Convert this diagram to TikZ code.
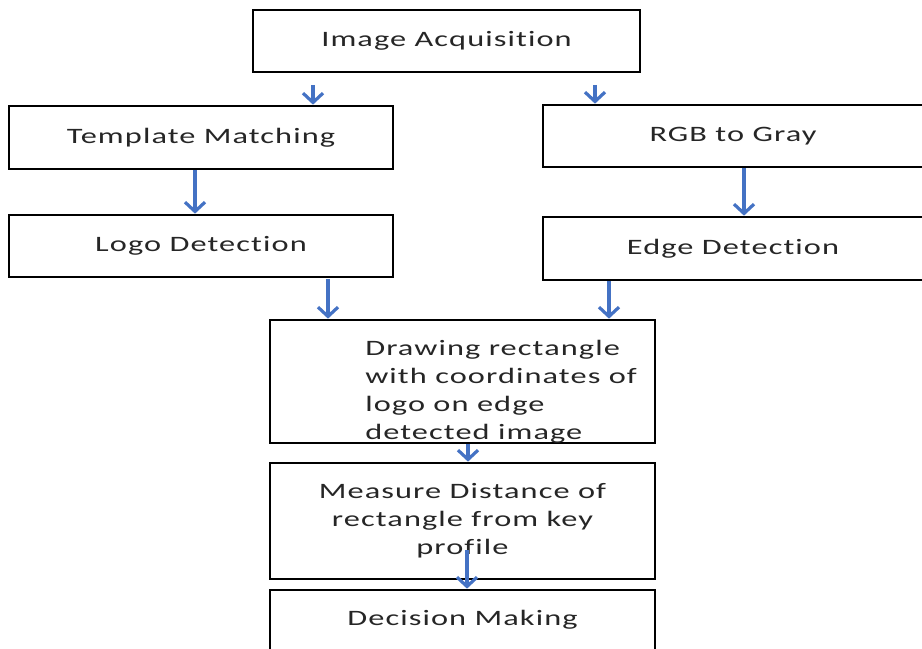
\documentclass[tikz,border=0pt]{standalone}
\usepackage{fontspec}
\setmainfont{Carlito}[FakeStretch=1.47,LetterSpace=5,Ligatures=NoCommon]
\usetikzlibrary{arrows.meta}
\definecolor{arrblue}{HTML}{4472C4}
\begin{document}
\begin{tikzpicture}[x=0.75pt,y=-0.75pt,
  box/.style={draw=black,line width=2pt,rectangle,inner sep=0pt,
    font=\fontsize{16.5}{21}\selectfont,text=black!85},
  arr/.style={draw=arrblue,line width=2.7pt,-{Straight Barb[length=7pt,width=15pt,line width=2.4pt]}},
  txt/.style={font=\fontsize{16.5}{21}\selectfont,text=black!85,inner sep=0pt}]
\useasboundingbox (0,0) rectangle (922,649);
\clip (0,0) rectangle (922,649);
\node[box,minimum width=387*0.75pt,minimum height=62*0.75pt] (acq) at (446.5,41) {Image Acquisition};
\node[box,minimum width=384*0.75pt,minimum height=63*0.75pt] (tm) at (201,137.5) {Template Matching};
\node[box,minimum width=384*0.75pt,minimum height=62*0.75pt] (logo) at (201,246) {Logo Detection};
\node[box,minimum width=380*0.75pt,minimum height=62*0.75pt] (rgb) at (733,136) {RGB to Gray};
\node[box,minimum width=380*0.75pt,minimum height=63*0.75pt] (edge) at (733,248.5) {Edge Detection};
\node[box,minimum width=385*0.75pt,minimum height=123*0.75pt] (drw) at (462.5,381.5) {};
\begin{scope}
\clip (drw.north west) rectangle (drw.south east);
\node[txt,align=left,anchor=north west] (drwt) at (365,340)
  {Drawing rectangle\\with coordinates of\\logo on edge\\detected image};
\end{scope}
\node[box,minimum width=385*0.75pt,minimum height=116*0.75pt,align=center] (meas) at (462.5,521)
  {Measure Distance of\\rectangle from key\\profile};
\node[box,minimum width=385*0.75pt,minimum height=64*0.75pt] (dec) at (462.5,622) {};
\node[txt] (dect) at (462.5,620) {Decision Making};
\coordinate (a1) at (313,85);
\coordinate (a2) at (595,85);
\coordinate (a3) at (328,279);
\coordinate (a4) at (609,281);
\coordinate (a5) at (468,444);
\coordinate (a6) at (467,550);
\draw[arr] (a1) -- (a1 |- tm.north);
\draw[arr] (a2) -- (a2 |- rgb.north);
\draw[arr] (tm.south) ++(-6,0) coordinate (b1) (b1) -- (b1 |- logo.north);
\draw[arr] (rgb.south) ++(11,0) coordinate (b2) (b2) -- (b2 |- edge.north);
\draw[arr] (a3) -- (a3 |- drw.north);
\draw[arr] (a4) -- (a4 |- drw.north);
\draw[arr] (a5) -- (a5 |- meas.north);
\draw[arr] (a6) -- (a6 |- dec.north);
\end{tikzpicture}
\end{document}
